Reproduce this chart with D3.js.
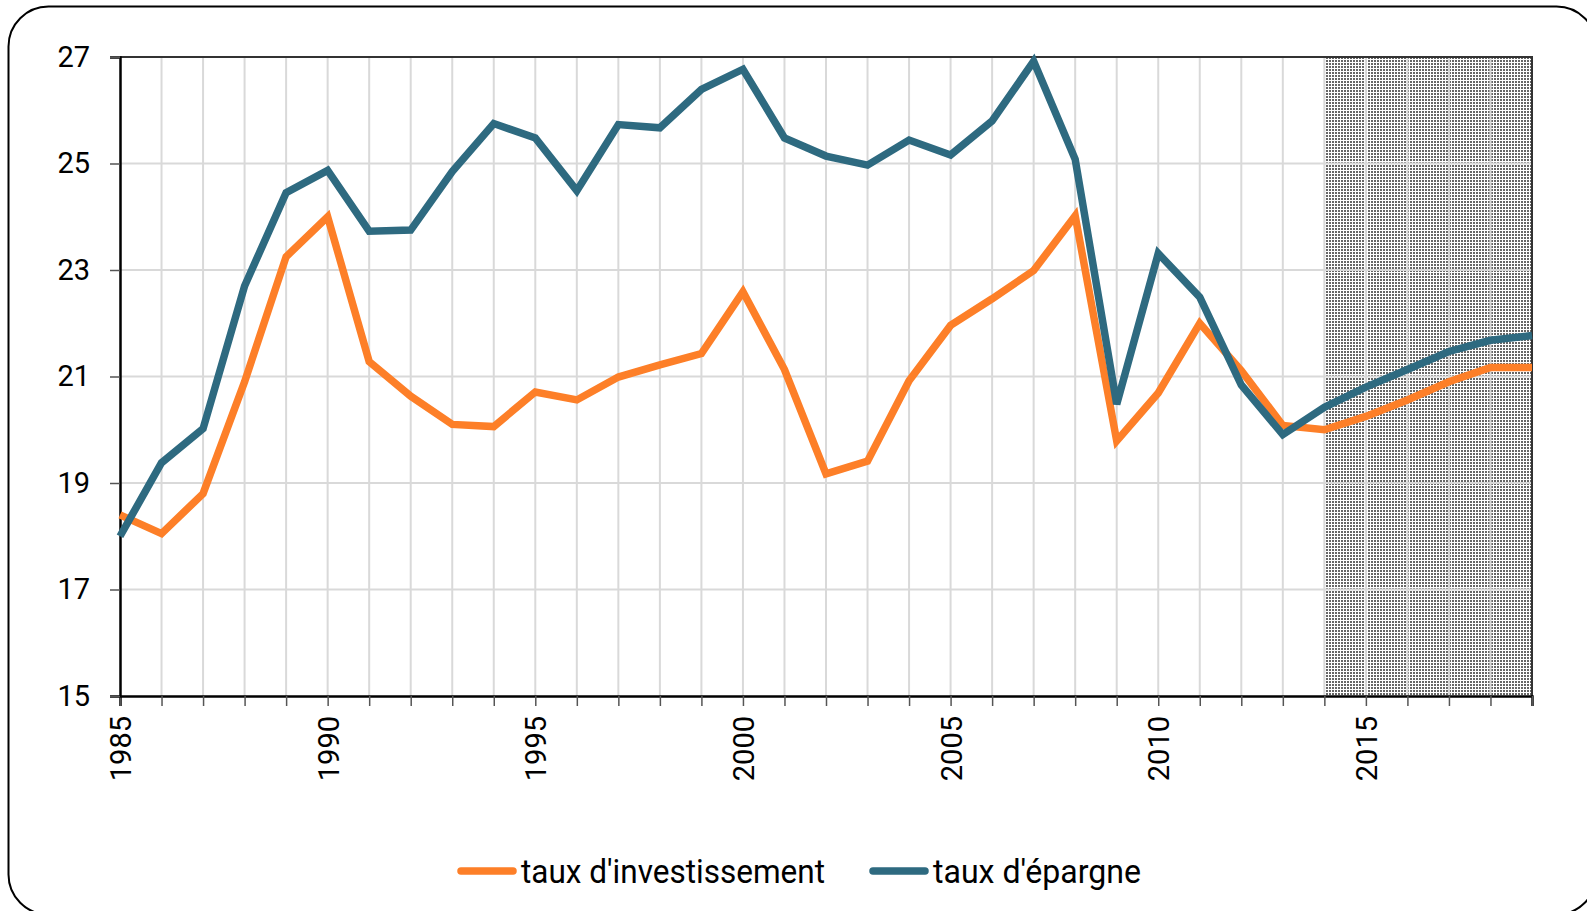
<!DOCTYPE html>
<html>
<head>
<meta charset="utf-8">
<script src="https://cdn.jsdelivr.net/npm/d3@7"></script>
<style>
  body { margin: 0; background: #fff; }
  svg { display: block; }
  .tick text { font-family: Roboto, "Open Sans", sans-serif; font-size: 29px; fill: #000; }
  .legend text { font-family: Roboto, sans-serif; font-size: 33px; fill: #000; }
</style>
</head>
<body>
<div id="chart"></div>
<script>
// years 1985-2019, forecast shading from 2014
var years = d3.range(1985, 2020);
var yTicks = [15, 17, 19, 21, 23, 25, 27];
var forecastStart = 2014;

// taux d'investissement
var investissement = [18.4, 18.05, 18.8, 20.9, 23.25, 24.0, 21.28, 20.63, 20.1, 20.06,
  20.71, 20.56, 20.99, 21.22, 21.43, 22.59, 21.13, 19.17, 19.41, 20.92,
  21.96, 22.46, 22.99, 24.02, 19.79, 20.69, 22.0, 21.11, 20.08, 20.0,
  20.25, 20.56, 20.9, 21.17, 21.17];

// taux d'epargne
var epargne = [18.0, 19.38, 20.02, 22.7, 24.45, 24.87, 23.73, 23.75, 24.85, 25.75,
  25.48, 24.49, 25.73, 25.67, 26.39, 26.77, 25.48, 25.14, 24.97, 25.44,
  25.16, 25.8, 26.92, 25.08, 20.48, 23.31, 22.49, 20.84, 19.91, 20.42,
  20.8, 21.13, 21.47, 21.68, 21.77];

var seriesNames = ["taux d'investissement", "taux d'\u00e9pargne"];
var colors = ['#fd7f28', '#2e6a80'];

var width = 1587, height = 911;
var plotLeft = 120, plotRight = 1532, plotTop = 57, plotBottom = 696;

var svg = d3.select('#chart').append('svg')
  .attr('width', width)
  .attr('height', height);

// outer rounded frame (runs off the right and bottom edges)
svg.append('rect')
  .attr('x', 8.5).attr('y', 6.5)
  .attr('width', 1588).attr('height', 908)
  .attr('rx', 40).attr('ry', 40)
  .attr('fill', 'none')
  .attr('stroke', '#000')
  .attr('stroke-width', 2);

var x = d3.scaleLinear().domain([1985, 2019]).range([plotLeft, plotRight]);
var y = d3.scaleLinear().domain([15, 27]).range([plotBottom, plotTop]);

// dotted pattern for forecast zone
var defs = svg.append('defs');
var pat = defs.append('pattern')
  .attr('id', 'dots')
  .attr('patternUnits', 'userSpaceOnUse')
  .attr('width', 3).attr('height', 3);
pat.append('rect').attr('width', 3).attr('height', 3).attr('fill', '#fff');
pat.append('rect').attr('width', 2).attr('height', 2).attr('fill', '#666');

svg.append('rect')
  .attr('x', x(forecastStart))
  .attr('y', y(27))
  .attr('width', x(2019) - x(forecastStart))
  .attr('height', y(15) - y(27))
  .attr('fill', 'url(#dots)');

// grid
svg.append('g').selectAll('line')
  .data(years.slice(1))
  .enter().append('line')
  .attr('x1', d => x(d)).attr('x2', d => x(d))
  .attr('y1', y(27)).attr('y2', y(15))
  .attr('stroke', '#d9d9d9')
  .attr('stroke-width', 2);

svg.append('g').selectAll('line')
  .data(yTicks.slice(1, -1))
  .enter().append('line')
  .attr('x1', plotLeft).attr('x2', plotRight)
  .attr('y1', d => y(d)).attr('y2', d => y(d))
  .attr('stroke', '#d9d9d9')
  .attr('stroke-width', 2);

// top and right frame
svg.append('path')
  .attr('d', 'M' + plotLeft + ',' + plotTop + 'H' + plotRight + 'V' + plotBottom)
  .attr('fill', 'none')
  .attr('stroke', '#333')
  .attr('stroke-width', 2);

// axes
var xAxis = d3.axisBottom(x)
  .tickValues(years)
  .tickSize(10)
  .tickFormat(d => d % 5 === 0 ? d : '');

var gx = svg.append('g')
  .attr('transform', 'translate(0,' + plotBottom + ')')
  .call(xAxis);
gx.select('.domain').attr('stroke', '#000').attr('stroke-width', 2.5);
gx.selectAll('.tick line').attr('stroke', '#555').attr('stroke-width', 1.5);
gx.selectAll('.tick text')
  .attr('transform', 'rotate(-90)')
  .attr('text-anchor', 'end')
  .attr('x', -20)
  .attr('y', 0)
  .attr('dy', '0.36em');

var yAxis = d3.axisLeft(y)
  .tickValues(yTicks)
  .tickSize(10)
  .tickPadding(20);

var gy = svg.append('g')
  .attr('transform', 'translate(' + plotLeft + ',0)')
  .call(yAxis);
gy.select('.domain').attr('stroke', '#000').attr('stroke-width', 2.5);
gy.selectAll('.tick line').attr('stroke', '#555').attr('stroke-width', 1.5);

// lines
var line = d3.line()
  .x((d, i) => x(years[i]))
  .y(d => y(d));

[investissement, epargne].forEach(function(s, k) {
  svg.append('path')
    .datum(s)
    .attr('d', line)
    .attr('fill', 'none')
    .attr('stroke', colors[k])
    .attr('stroke-width', 7.5)
    .attr('stroke-linejoin', 'miter');
});

// legend (narrow face approximated with textLength)
var legend = svg.append('g').attr('class', 'legend');
var legendX = [461, 873];
var legendW = [304, 208];
seriesNames.forEach(function(name, k) {
  legend.append('line')
    .attr('x1', legendX[k]).attr('x2', legendX[k] + 52)
    .attr('y1', 871).attr('y2', 871)
    .attr('stroke', colors[k])
    .attr('stroke-width', 7.5)
    .attr('stroke-linecap', 'round');
  legend.append('text')
    .attr('x', legendX[k] + 60)
    .attr('y', 883)
    .attr('textLength', legendW[k])
    .attr('lengthAdjust', 'spacingAndGlyphs')
    .text(name);
});
</script>
</body>
</html>
